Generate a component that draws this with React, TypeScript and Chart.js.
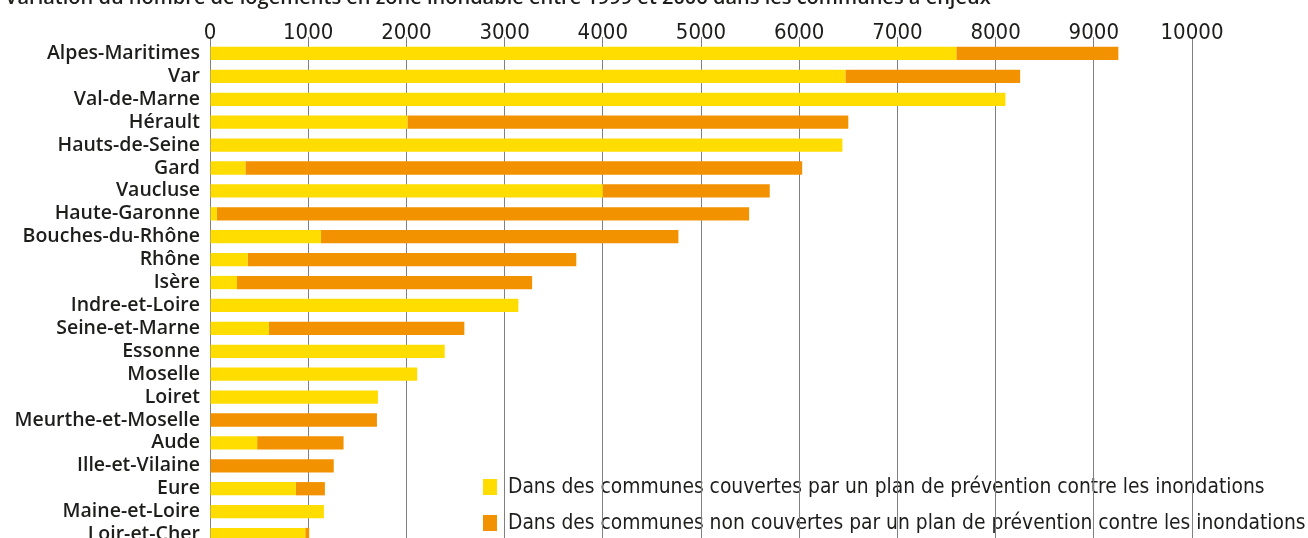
import React, { useEffect, useRef } from "react";
import { Chart, registerables } from "chart.js";

Chart.register(...registerables);

const titleText =
  "Variation du nombre de logements en zone inondable entre 1999 et 2006 dans les communes à enjeux";

const categories = [
  "Alpes-Maritimes",
  "Var",
  "Val-de-Marne",
  "Hérault",
  "Hauts-de-Seine",
  "Gard",
  "Vaucluse",
  "Haute-Garonne",
  "Bouches-du-Rhône",
  "Rhône",
  "Isère",
  "Indre-et-Loire",
  "Seine-et-Marne",
  "Essonne",
  "Moselle",
  "Loiret",
  "Meurthe-et-Moselle",
  "Aude",
  "Ille-et-Vilaine",
  "Eure",
  "Maine-et-Loire",
  "Loir-et-Cher",
];

const coveredValues = [
  7600, 6470, 8100, 2010, 6440, 360, 4000, 70, 1130, 385, 275, 3140, 600, 2390,
  2110, 1710, 0, 480, 0, 875, 1160, 970,
];

const notCoveredValues = [
  1650, 1780, 0, 4490, 0, 5670, 1700, 5420, 3640, 3345, 3005, 0, 1990, 0, 0, 0,
  1700, 880, 1260, 295, 0, 40,
];

const seriesLabels = [
  "Dans des communes couvertes par un plan de prévention contre les inondations",
  "Dans des communes non couvertes par un plan de prévention contre les inondations",
];

const tickValues = [0, 1000, 2000, 3000, 4000, 5000, 6000, 7000, 8000, 9000, 10000];

const YELLOW = "#FFDD00";
const ORANGE = "#F39200";
const TEXT = "#1d1d1b";
const GRID = "#808080";
const CONDENSED = "'Liberation Sans Narrow', 'DejaVu Sans Condensed', sans-serif";

const legendPlugin = {
  id: "customLegend",
  beforeDraw(chart: any) {
    const ctx = chart.ctx;
    ctx.save();
    const items = chart.data.datasets;
    items.forEach((ds: any, i: number) => {
      const y = 487 + i * 36;
      ctx.fillStyle = ds.backgroundColor;
      ctx.fillRect(483, y - 8, 14, 16);
      ctx.fillStyle = TEXT;
      ctx.font = "20.8px " + CONDENSED;
      ctx.textBaseline = "middle";
      ctx.textAlign = "left";
      ctx.fillText(ds.label, 508, y + 1);
    });
    ctx.restore();
  },
};

export default function App() {
  const ref = useRef<HTMLCanvasElement | null>(null);

  useEffect(() => {
    if (!ref.current) return;
    const chart = new Chart(ref.current, {
      type: "bar",
      data: {
        labels: categories,
        datasets: [
          {
            label: seriesLabels[0],
            data: coveredValues,
            backgroundColor: YELLOW,
            borderWidth: 0,
          },
          {
            label: seriesLabels[1],
            data: notCoveredValues,
            backgroundColor: ORANGE,
            borderWidth: 0,
          },
        ],
      },
      options: {
        indexAxis: "y",
        animation: false,
        responsive: false,
        maintainAspectRatio: false,
        layout: { padding: { right: 116, top: 0, bottom: 0, left: 0 } },
        plugins: {
          legend: { display: false },
          tooltip: { enabled: false },
          title: { display: false },
        },
        datasets: {
          bar: { categoryPercentage: 1, barPercentage: 0.58 },
        },
        scales: {
          x: {
            position: "top",
            stacked: true,
            min: 0,
            max: 10000,
            afterBuildTicks: (scale: any) => {
              scale.ticks = tickValues.map((v) => ({ value: v }));
            },
            afterFit: (scale: any) => {
              scale.height = 42;
            },
            border: { display: false },
            grid: {
              color: GRID,
              lineWidth: 1,
              drawTicks: true,
              tickLength: 5,
            },
            ticks: {
              color: TEXT,
              padding: -9,
              autoSkip: false,
              maxRotation: 0,
              callback: (v: any) => String(v),
              font: { family: CONDENSED, size: 22 },
            },
          },
          y: {
            stacked: true,
            afterFit: (scale: any) => {
              scale.width = 210;
              scale.paddingTop = 0;
              scale.paddingBottom = 0;
            },
            border: { display: false },
            grid: { display: false, drawTicks: false },
            ticks: {
              color: TEXT,
              padding: 10,
              autoSkip: false,
              font: { family: "'Open Sans', sans-serif", size: 19.5, weight: "600" },
            },
          },
        },
      },
      plugins: [legendPlugin],
    });
    return () => chart.destroy();
  }, []);

  return (
    <div
      style={{
        position: "fixed",
        left: 0,
        top: 0,
        width: 1308,
        height: 538,
        overflow: "hidden",
        background: "#ffffff",
      }}
    >
      <canvas
        ref={ref}
        width={1308}
        height={546}
        style={{ position: "absolute", left: 0, top: 0, width: 1308, height: 546 }}
      />
      <div
        style={{
          position: "absolute",
          left: 5,
          top: -13,
          whiteSpace: "nowrap",
          fontFamily: "'Open Sans', sans-serif",
          fontWeight: 600,
          fontSize: 20,
          lineHeight: "20px",
          color: TEXT,
        }}
      >
        {titleText}
      </div>
    </div>
  );
}
